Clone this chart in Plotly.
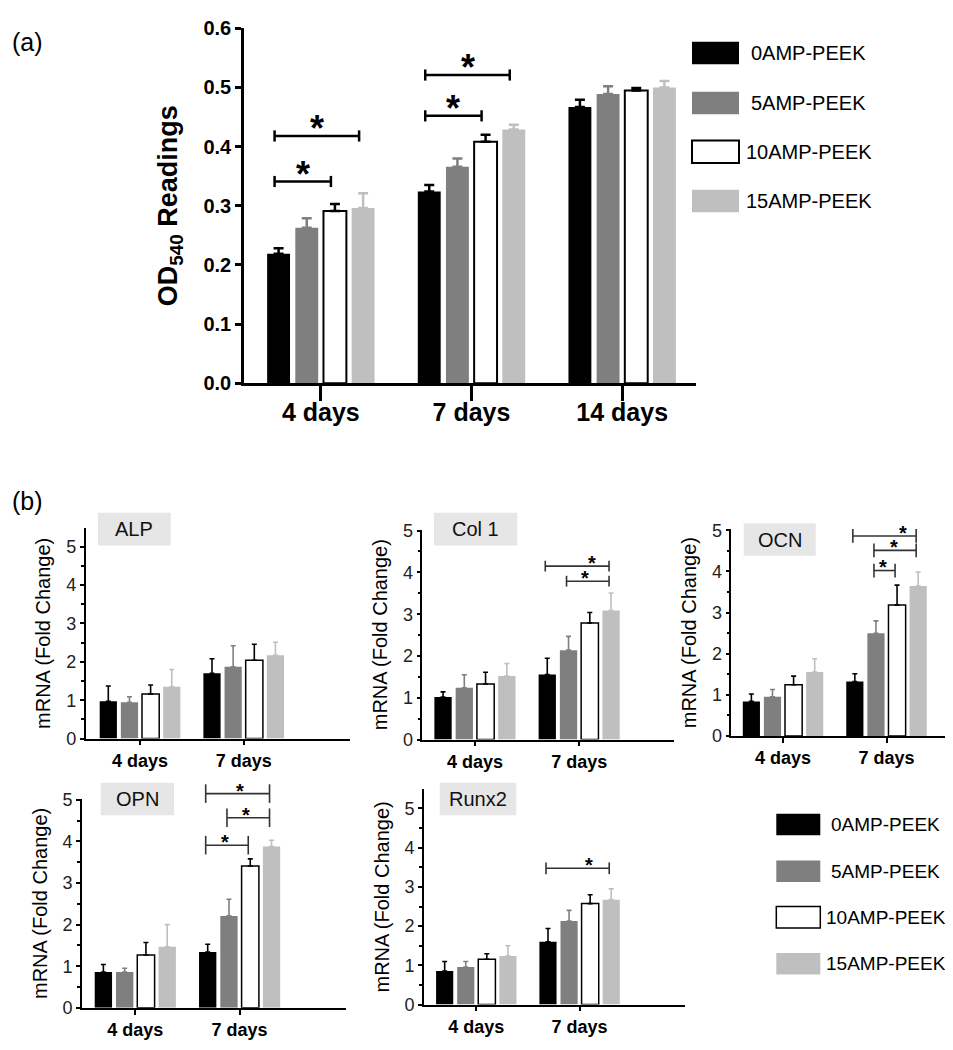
import plotly.graph_objects as go

W, H = 953, 1050
FONT = "Arial, Liberation Sans, sans-serif"

# ---------------- data ----------------
groups = ["0AMP-PEEK", "5AMP-PEEK", "10AMP-PEEK", "15AMP-PEEK"]

# (a) OD540 readings
days_a = ["4 days", "7 days", "14 days"]
od_0 = [0.219, 0.324, 0.467]
od_5 = [0.263, 0.366, 0.489]
od_10 = [0.291, 0.408, 0.495]
od_15 = [0.296, 0.429, 0.500]
od_err_0 = [0.009, 0.011, 0.012]
od_err_5 = [0.016, 0.014, 0.013]
od_err_10 = [0.012, 0.012, 0.004]
od_err_15 = [0.025, 0.008, 0.011]
# significance: (day index, bar from, bar to, bracket height, star position along bracket)
sig_a = [(0, 0, 2, 0.341, 0.5), (0, 0, 3, 0.418, 0.5), (1, 0, 2, 0.452, 0.5), (1, 0, 3, 0.521, 0.5)]

# (b) mRNA fold change
days_b = ["4 days", "7 days"]
alp_0, alp_5, alp_10, alp_15 = [0.97, 1.70], [0.944, 1.87], [1.165, 2.04], [1.352, 2.17]
alp_e0, alp_e5, alp_e10, alp_e15 = [0.40, 0.38], [0.145, 0.55], [0.23, 0.42], [0.45, 0.34]
sig_alp = []

col_0, col_5, col_10, col_15 = [1.016, 1.555], [1.24, 2.14], [1.33, 2.79], [1.52, 3.086]
col_e0, col_e5, col_e10, col_e15 = [0.125, 0.39], [0.31, 0.33], [0.28, 0.25], [0.30, 0.42]
sig_col = [(1, 0, 3, 4.15, 0.74), (1, 1, 3, 3.79, 0.43)]

ocn_0, ocn_5, ocn_10, ocn_15 = [0.84, 1.323], [0.95, 2.496], [1.244, 3.185], [1.553, 3.645]
ocn_e0, ocn_e5, ocn_e10, ocn_e15 = [0.18, 0.19], [0.18, 0.30], [0.21, 0.48], [0.325, 0.34]
sig_ocn = [(1, 0, 3, 4.86, 0.80), (1, 1, 3, 4.51, 0.47), (1, 1, 2, 4.02, 0.44)]

opn_0, opn_5, opn_10, opn_15 = [0.862, 1.34], [0.862, 2.21], [1.27, 3.41], [1.47, 3.88]
opn_e0, opn_e5, opn_e10, opn_e15 = [0.18, 0.19], [0.09, 0.40], [0.30, 0.17], [0.53, 0.15]
sig_opn = [(1, 0, 3, 5.15, 0.54), (1, 1, 3, 4.57, 0.45), (1, 0, 2, 3.91, 0.45)]

run_0, run_5, run_10, run_15 = [0.858, 1.60], [0.958, 2.133], [1.158, 2.575], [1.24, 2.675]
run_e0, run_e5, run_e10, run_e15 = [0.24, 0.34], [0.14, 0.27], [0.14, 0.225], [0.26, 0.275]
sig_run = [(1, 0, 3, 3.475, 0.68)]

gene_names = ["ALP", "Col 1", "OCN", "OPN", "Runx2"]

# ---------------- styles ----------------
bar_colors = ["#000000", "#7f7f7f", "#ffffff", "#bfbfbf"]
err_colors = ["#000000", "#7f7f7f", "#000000", "#bfbfbf"]


def X(p):
    return p / W


def Y(p):
    return 1 - p / H


fig = go.Figure()
shapes = []
annots = []
layout = {}


def add_panel(idx, cats, means, errs, xpx, ypx, xr, yr, st, sigs):
    xa = "x" if idx == 1 else f"x{idx}"
    ya = "y" if idx == 1 else f"y{idx}"
    bw, pitch = st["bw"], st["pitch"]
    for k in range(4):
        fig.add_trace(go.Bar(
            x=cats, y=means[k], name=groups[k], width=bw,
            offset=(k - 1.5) * pitch - bw / 2,
            xaxis=xa, yaxis=ya, showlegend=False, hoverinfo="skip",
            marker=dict(color=bar_colors[k],
                        line=dict(color="#000000", width=st["blw"] if k == 2 else 0)),
            error_y=dict(type="data", symmetric=False, array=errs[k],
                         arrayminus=[0] * len(cats), color=err_colors[k],
                         thickness=st["elw"], width=st["ecap"]),
        ))
    xkey = "xaxis" if idx == 1 else f"xaxis{idx}"
    ykey = "yaxis" if idx == 1 else f"yaxis{idx}"
    layout[xkey] = dict(
        domain=[X(xpx[0]), X(xpx[1])], range=list(xr), type="category",
        anchor=ya, showline=True, linecolor="#000000", linewidth=st["alw"],
        showgrid=False, zeroline=False, ticks="outside", ticklen=st["xticklen"],
        tickwidth=st["alw"], tickcolor="#000000", ticklabelstandoff=st["xlabstand"],
        tickfont=dict(family=FONT, size=st["xtickfs"], color="#000000", weight="bold"),
    )
    yax = dict(
        domain=[Y(ypx[0]), Y(ypx[1])], range=list(yr), anchor=xa,
        showline=True, linecolor="#000000", linewidth=st["alw"],
        showgrid=False, zeroline=False, ticks="outside", ticklen=st["yticklen"],
        tickwidth=st["alw"], tickcolor="#000000", dtick=st["dtick"],
        tickformat=st["tickformat"],
        tickfont=dict(family=FONT, size=st["ytickfs"], color=st["tickcolor"],
                      weight=st["ytickweight"]),
        title=dict(text=st["ytitle"], standoff=st["standoff"],
                   font=dict(family=FONT, size=st["ytitlefs"], color="#000000",
                             weight=st["ytitleweight"])),
    )
    if st.get("minor"):
        yax["minor"] = dict(dtick=st["dtick"] / 2, ticks="outside", ticklen=st["yticklen"] - 1,
                            tickwidth=st["alw"], tickcolor="#000000")
    layout[ykey] = yax

    # significance brackets (pixel space -> paper)
    def xpix(v):
        return xpx[0] + (v - xr[0]) / (xr[1] - xr[0]) * (xpx[1] - xpx[0])

    def ypix(v):
        return ypx[0] - (v - yr[0]) / (yr[1] - yr[0]) * (ypx[0] - ypx[1])

    for (g, i, j, h, frac) in sigs:
        x1 = xpix(g + (i - 1.5) * pitch) + st["bshift"]
        x2 = xpix(g + (j - 1.5) * pitch) + st["bshift"]
        yy = ypix(h)
        e = st["endlen"]
        line = dict(color=st["sigcolor"], width=st["siglw"])
        shapes.append(dict(type="line", xref="paper", yref="paper", x0=X(x1), x1=X(x2),
                           y0=Y(yy), y1=Y(yy), line=line))
        for xe in (x1, x2):
            shapes.append(dict(type="line", xref="paper", yref="paper", x0=X(xe), x1=X(xe),
                               y0=Y(yy - e), y1=Y(yy + e), line=line))
        sx = x1 + frac * (x2 - x1)
        sy = yy - st["stargap"] + 0.22 * st["starfs"]
        annots.append(dict(text="*", xref="paper", yref="paper", x=X(sx), y=Y(sy),
                           xanchor="center", yanchor="middle", showarrow=False,
                           font=dict(family=FONT, size=st["starfs"], color="#000000",
                                     weight="bold")))


style_a = dict(bw=0.152, pitch=0.187, blw=2, elw=2.5, ecap=5, alw=2.5, xticklen=15,
               yticklen=6, xtickfs=25, ytickfs=20, dtick=0.1, tickformat=".1f",
               tickcolor="#000000", ytickweight="bold", xlabstand=-10,
               ytitle="OD<sub>540</sub> Readings", ytitlefs=27, ytitleweight="bold",
               standoff=18, bshift=-4, endlen=5.7, sigcolor="#000000", siglw=2.5,
               starfs=36, stargap=15.5)

style_b = dict(bw=0.166, pitch=0.204, blw=1.5, elw=1.6, ecap=2.5, alw=1.6, xticklen=5,
               yticklen=4, xtickfs=18, ytickfs=18, dtick=1, tickformat="d",
               tickcolor="#222222", ytickweight="normal", xlabstand=0,
               ytitle="mRNA (Fold Change)", ytitlefs=20, ytitleweight="normal",
               standoff=10, bshift=-2, endlen=6, sigcolor="#333333", siglw=1.6,
               starfs=20, stargap=7.5, minor=True)

add_panel(1, days_a, [od_0, od_5, od_10, od_15], [od_err_0, od_err_5, od_err_10, od_err_15],
          (236, 688), (372, 9.5), (-0.51, 2.49), (0, 0.6), style_a, sig_a)

panels_b = [
    ([alp_0, alp_5, alp_10, alp_15], [alp_e0, alp_e5, alp_e10, alp_e15],
     (77.7, 342), (735, 520), (-0.524, 2.025), (0, 5.485), sig_alp, 6,
     (90, 504.3, 162.7, 537.7)),
    ([col_0, col_5, col_10, col_15], [col_e0, col_e5, col_e10, col_e15],
     (414.3, 666), (736, 521.7), (-0.505, 1.91), (0, 5.02), sig_col, 5.5,
     (426, 504.3, 509.3, 537.7)),
    ([ocn_0, ocn_5, ocn_10, ocn_15], [ocn_e0, ocn_e5, ocn_e10, ocn_e15],
     (723.3, 953), (732.3, 521.3), (-0.5, 1.72), (0, 5.02), sig_ocn, 7,
     (735.7, 515, 807.7, 548.3)),
    ([opn_0, opn_5, opn_10, opn_15], [opn_e0, opn_e5, opn_e10, opn_e15],
     (74, 338), (1010, 796.7), (-0.511, 2.02), (0, 5.02), sig_opn, 9.5,
     (92.7, 780, 166, 813.3)),
    ([run_0, run_5, run_10, run_15], [run_e0, run_e5, run_e10, run_e15],
     (416, 676.7), (1006.7, 786.7), (-0.506, 2.017), (0, 5.49), sig_run, 6,
     (431.7, 780, 508.3, 813.3)),
]

for n, (means, errs, xpx, ypx, xr, yr, sigs, endlen, box) in enumerate(panels_b):
    st = dict(style_b, endlen=endlen)
    add_panel(n + 2, days_b, means, errs, xpx, ypx, xr, yr, st, sigs)
    bx0, by0, bx1, by1 = box
    shapes.append(dict(type="rect", xref="paper", yref="paper", x0=X(bx0), x1=X(bx1),
                       y0=Y(by1), y1=Y(by0), fillcolor="#e6e6e6", line=dict(width=0),
                       layer="below"))
    annots.append(dict(text=gene_names[n], xref="paper", yref="paper",
                       x=X((bx0 + bx1) / 2), y=Y((by0 + by1) / 2), xanchor="center",
                       yanchor="middle", showarrow=False,
                       font=dict(family=FONT, size=20, color="#111111")))


# legends drawn as boxes + labels
def add_legend(x0, x1, rows, h, text_cx, fs, lw):
    for k, cy in enumerate(rows):
        shapes.append(dict(type="rect", xref="paper", yref="paper", x0=X(x0), x1=X(x1),
                           y0=Y(cy + h / 2), y1=Y(cy - h / 2), fillcolor=bar_colors[k],
                           line=dict(color="#000000", width=lw if k == 2 else 0)))
        annots.append(dict(text=groups[k], xref="paper", yref="paper", x=X(text_cx),
                           y=Y(cy), xanchor="center", yanchor="middle", showarrow=False,
                           font=dict(family=FONT, size=fs, color="#000000")))


add_legend(684, 731, [34.7, 85.7, 135.7, 186], 23, 800.5, 20, 2)
add_legend(768.3, 812.3, [822.8, 870.5, 917.5, 965], 22, 877.5, 19, 1.5)

# panel labels
annots.append(dict(text="(a)", xref="paper", yref="paper", x=X(2), y=Y(23), xanchor="left",
                   yanchor="middle", showarrow=False,
                   font=dict(family=FONT, size=25, color="#000000")))
annots.append(dict(text="(b)", xref="paper", yref="paper", x=X(2), y=Y(492), xanchor="left",
                   yanchor="middle", showarrow=False,
                   font=dict(family=FONT, size=25, color="#000000")))

fig.update_layout(
    width=W, height=H, margin=dict(l=0, r=0, t=0, b=0),
    paper_bgcolor="#ffffff", plot_bgcolor="rgba(0,0,0,0)",
    barmode="overlay", showlegend=False,
    font=dict(family=FONT, color="#000000"),
    shapes=shapes, annotations=annots, **layout,
)

fig.write_html("out.html")
